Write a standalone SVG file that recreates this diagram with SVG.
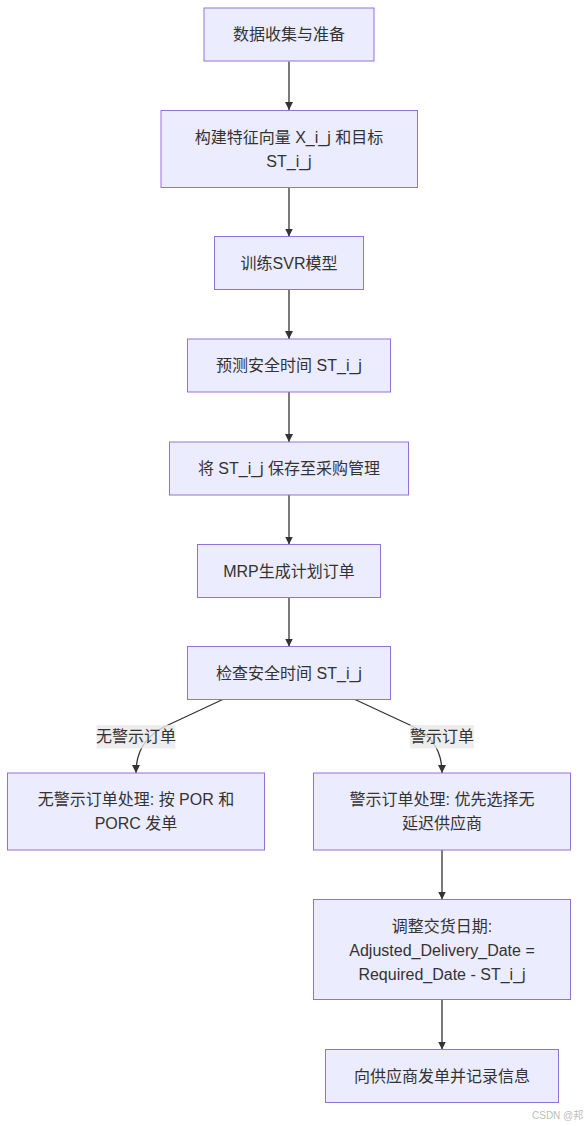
<svg xmlns="http://www.w3.org/2000/svg" width="586" height="1126" viewBox="0 0 586 1126">
<style>
.node rect{fill:#ECECFF;stroke:#9370DB;stroke-width:1}
text{font-family:"Liberation Sans","Noto Sans CJK SC",sans-serif;font-size:16px;fill:#333;text-anchor:middle;dominant-baseline:central}
.edge{fill:none;stroke:#333;stroke-width:1.3}
.lbl rect{fill:#e8e8e8;opacity:0.8}
.wm{font-size:10px;fill:#bdbdbd;text-anchor:start}
</style>
<defs>
<marker id="arrow" markerUnits="userSpaceOnUse" markerWidth="10" markerHeight="10" refX="8" refY="4" orient="auto">
<path d="M0,0 L8,4 L0,8 z" fill="#333"/>
</marker>
</defs>
<rect width="586" height="1126" fill="#ffffff"/>
<g id="connectors">
<path class="edge" d="M289,61.5 L289,110" marker-end="url(#arrow)"/>
<path class="edge" d="M289,187.5 L289,236.5" marker-end="url(#arrow)"/>
<path class="edge" d="M289,289.5 L289,339" marker-end="url(#arrow)"/>
<path class="edge" d="M289,392 L289,442" marker-end="url(#arrow)"/>
<path class="edge" d="M289,495 L289,544.5" marker-end="url(#arrow)"/>
<path class="edge" d="M289,597.5 L289,646.5" marker-end="url(#arrow)"/>
<path class="edge" d="M222.7,699.5 L166,726 Q136,740 136,773" marker-end="url(#arrow)"/>
<path class="edge" d="M355,699.5 L412,726 Q442,740 442,773" marker-end="url(#arrow)"/>
<path class="edge" d="M442,850 L442,899.5" marker-end="url(#arrow)"/>
<path class="edge" d="M442,999.5 L442,1049.5" marker-end="url(#arrow)"/>
<g class="lbl" id="label-no-warning">
<rect x="96.5" y="725" width="79" height="23.5"/>
<text x="136" y="736.8">无警示订单</text>
</g>
<g class="lbl" id="label-warning">
<rect x="410" y="725" width="64" height="23.5"/>
<text x="442" y="736.8">警示订单</text>
</g>
</g>
<g class="node" id="n1">
<rect x="204" y="8" width="170" height="53"/>
<text x="289" y="34.5">数据收集与准备</text>
</g>
<g class="node" id="n2">
<rect x="161" y="110.5" width="256.5" height="77"/>
<text x="289" y="137">构建特征向量 X_i_j 和目标</text>
<text x="289" y="161">ST_i_j</text>
</g>
<g class="node" id="n3">
<rect x="214.5" y="236.5" width="149" height="53"/>
<text x="289" y="263">训练SVR模型</text>
</g>
<g class="node" id="n4">
<rect x="187.5" y="339" width="203" height="53"/>
<text x="289" y="365.5">预测安全时间 ST_i_j</text>
</g>
<g class="node" id="n5">
<rect x="169.5" y="442" width="239" height="53"/>
<text x="289" y="468.5">将 ST_i_j 保存至采购管理</text>
</g>
<g class="node" id="n6">
<rect x="197.5" y="544.5" width="183" height="53"/>
<text x="289" y="571">MRP生成计划订单</text>
</g>
<g class="node" id="n7">
<rect x="187.5" y="646.5" width="203" height="53"/>
<text x="289" y="673">检查安全时间 ST_i_j</text>
</g>
<g class="node" id="n8">
<rect x="7.5" y="773" width="257" height="77"/>
<text x="136" y="799.5">无警示订单处理: 按 POR 和</text>
<text x="136" y="823.5">PORC 发单</text>
</g>
<g class="node" id="n9">
<rect x="313.5" y="773" width="257" height="77"/>
<text x="442" y="799.5">警示订单处理: 优先选择无</text>
<text x="442" y="823.5">延迟供应商</text>
</g>
<g class="node" id="n10">
<rect x="313.5" y="899.5" width="257" height="100"/>
<text x="442" y="926">调整交货日期:</text>
<text x="442" y="950">Adjusted_Delivery_Date =</text>
<text x="442" y="974">Required_Date - ST_i_j</text>
</g>
<g class="node" id="n11">
<rect x="325.5" y="1049.5" width="233" height="53"/>
<text x="442" y="1076">向供应商发单并记录信息</text>
</g>
<text class="wm" x="532" y="1115">CSDN @邦</text>
</svg>
